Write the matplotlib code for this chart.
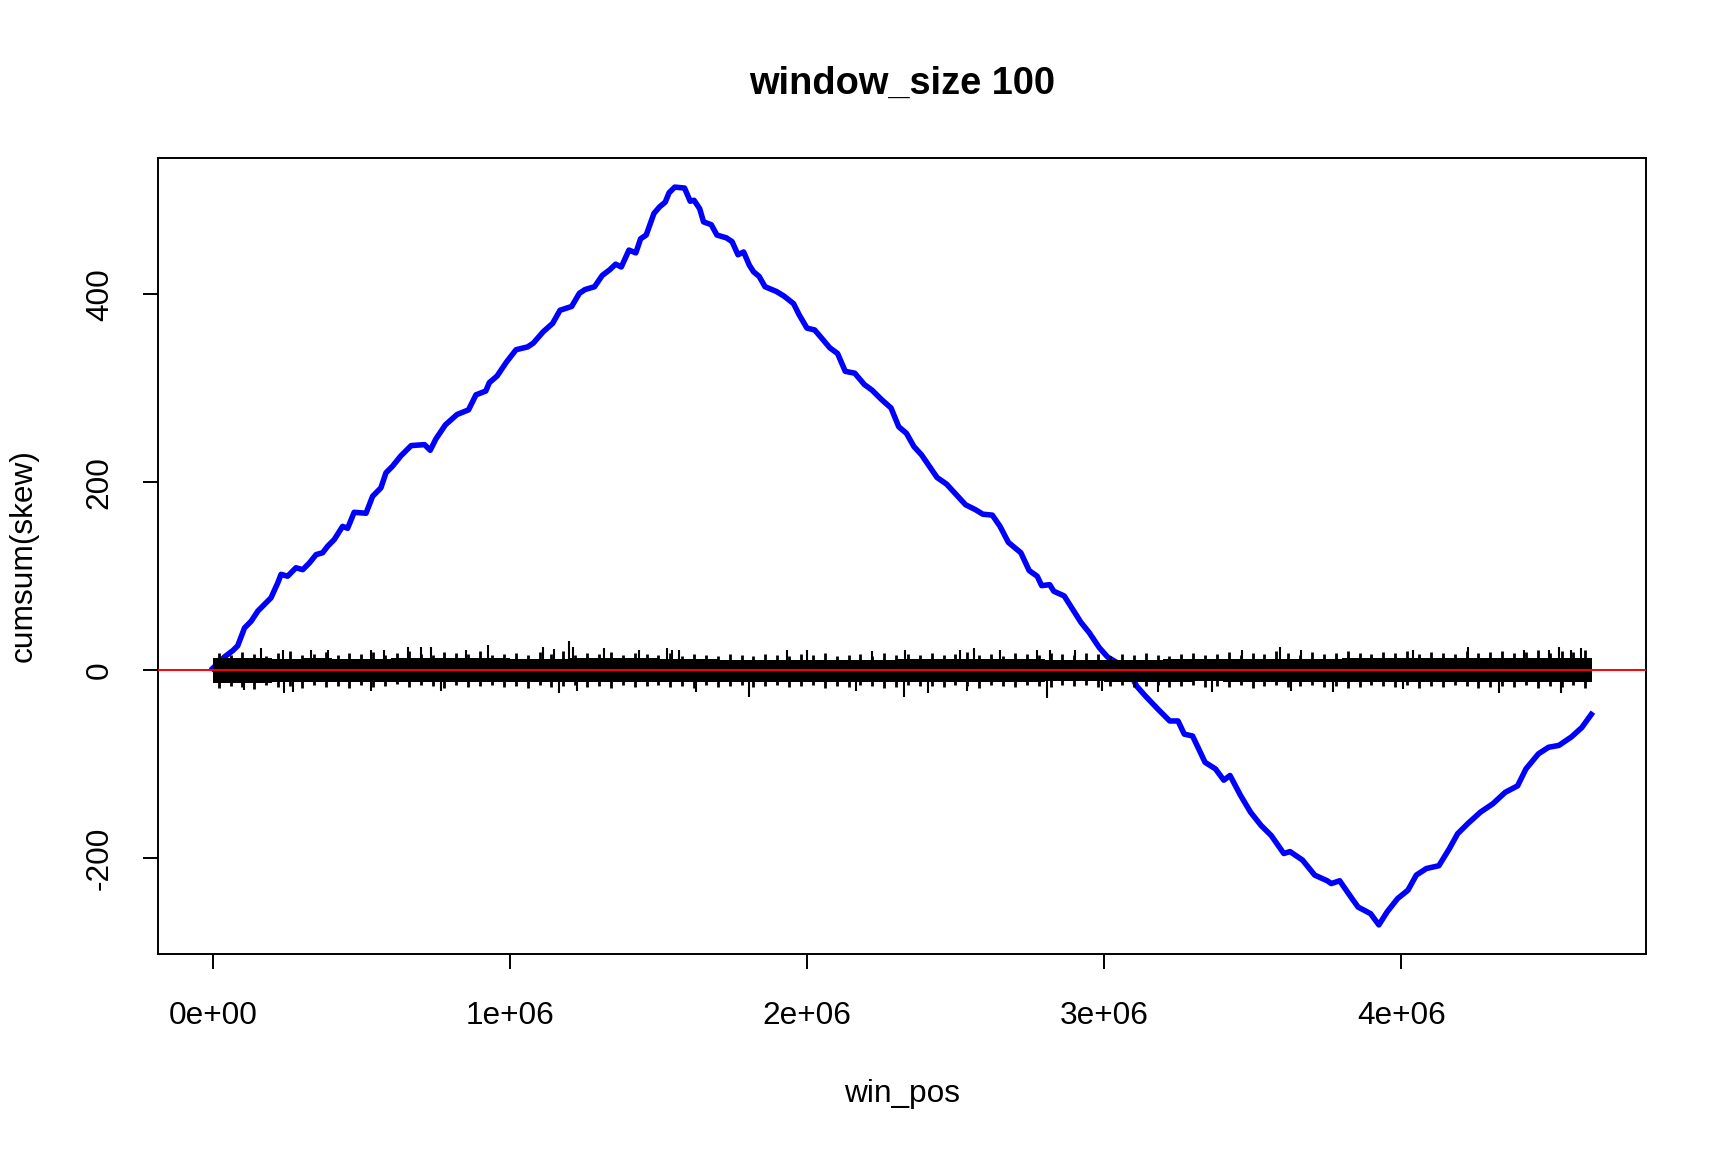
import numpy as np
import matplotlib
matplotlib.use("Agg")
import matplotlib.pyplot as plt

plt.rcParams['font.family'] = ['Liberation Sans', 'DejaVu Sans']

title = "window_size 100"
x_label = "win_pos"
y_label = "cumsum(skew)"

x_ticks = [0, 1e6, 2e6, 3e6, 4e6]
x_tick_labels = ["0e+00", "1e+06", "2e+06", "3e+06", "4e+06"]
y_ticks = [-200, 0, 200, 400]
y_tick_labels = ["-200", "0", "200", "400"]

# cumsum(skew) (x in Mb)
cum_x = [0.000, 0.020, 0.039, 0.068, 0.084, 0.107, 0.129, 0.152, 0.180, 0.196,
         0.219, 0.230, 0.252, 0.280, 0.303, 0.325, 0.348, 0.370, 0.387, 0.409,
         0.437, 0.454, 0.476, 0.516, 0.538, 0.566, 0.583, 0.605, 0.633, 0.668,
         0.713, 0.732, 0.751, 0.783, 0.822, 0.861, 0.886, 0.919, 0.931, 0.957,
         0.989, 1.021, 1.060, 1.079, 1.112, 1.144, 1.169, 1.208, 1.234, 1.253,
         1.285, 1.311, 1.336, 1.356, 1.375, 1.401, 1.424, 1.440, 1.459, 1.485,
         1.504, 1.523, 1.536, 1.555, 1.588, 1.607, 1.620, 1.639, 1.652, 1.678,
         1.697, 1.729, 1.748, 1.768, 1.787, 1.806, 1.820, 1.839, 1.859, 1.897,
         1.923, 1.955, 1.974, 2.000, 2.026, 2.045, 2.077, 2.103, 2.129, 2.161,
         2.193, 2.219, 2.251, 2.283, 2.309, 2.335, 2.360, 2.386, 2.412, 2.438,
         2.470, 2.502, 2.534, 2.566, 2.592, 2.624, 2.650, 2.678, 2.720, 2.748,
         2.775, 2.790, 2.817, 2.831, 2.866, 2.894, 2.922, 2.950, 2.984, 3.012,
         3.060, 3.090, 3.110, 3.138, 3.180, 3.221, 3.249, 3.270, 3.298, 3.340,
         3.375, 3.403, 3.424, 3.459, 3.493, 3.528, 3.563, 3.605, 3.626, 3.668,
         3.709, 3.751, 3.765, 3.793, 3.828, 3.855, 3.897, 3.925, 3.953, 3.988,
         4.023, 4.051, 4.085, 4.127, 4.162, 4.190, 4.225, 4.267, 4.309, 4.350,
         4.392, 4.420, 4.462, 4.496, 4.531, 4.573, 4.608, 4.640]
cum_y = [2, 8, 14, 21, 26, 45, 52, 63, 72, 77,
         93, 102, 100, 109, 107, 114, 123, 125, 132, 139,
         153, 151, 168, 167, 185, 194, 210, 217, 228, 239,
         240, 234, 246, 261, 272, 277, 293, 297, 306, 313,
         328, 341, 344, 348, 360, 369, 383, 387, 401, 405,
         408, 420, 426, 432, 429, 447, 444, 459, 463, 486,
         493, 498, 508, 514, 513, 499, 500, 491, 477, 474,
         463, 460, 456, 442, 445, 431, 424, 419, 408, 403,
         398, 390, 378, 364, 362, 355, 343, 337, 318, 316,
         304, 298, 288, 279, 259, 252, 238, 229, 217, 205,
         198, 187, 176, 171, 166, 165, 153, 136, 125, 106,
         100, 90, 91, 84, 79, 65, 51, 40, 24, 14,
         5, -5, -17, -27, -41, -54, -54, -68, -70, -98,
         -105, -117, -112, -133, -151, -165, -176, -195, -193, -202,
         -218, -224, -227, -224, -240, -252, -259, -271, -257, -243,
         -234, -218, -211, -208, -190, -174, -163, -151, -142, -130,
         -123, -105, -89, -82, -80, -71, -61, -47]

# skew per window: solid core of the black trace per 100 kb bin
band_x = [0.0, 0.1, 0.2, 0.3, 0.4, 0.5, 0.6, 0.7, 0.8, 0.9, 1.0, 1.1,
          1.2, 1.3, 1.4, 1.5, 1.6, 1.7, 1.8, 1.9, 2.0, 2.1, 2.2, 2.3,
          2.4, 2.5, 2.6, 2.7, 2.8, 2.9, 3.0, 3.1, 3.2, 3.3, 3.4, 3.5,
          3.6, 3.7, 3.8, 3.9, 4.0, 4.1, 4.2, 4.3, 4.4, 4.5, 4.6, 4.642]
band_hi = [13, 13, 12, 13, 12, 12, 13, 13, 13, 13, 12, 12,
           13, 13, 13, 12, 12, 11, 11, 11, 11, 11, 11, 12,
           12, 12, 12, 12, 11, 11, 11, 11, 12, 12, 12, 12,
           12, 12, 13, 13, 13, 13, 13, 13, 13, 13, 13, 13]
band_lo = [-14, -14, -13, -13, -13, -13, -13, -13, -13, -13, -13, -13,
           -13, -13, -13, -13, -13, -13, -13, -13, -13, -13, -13, -13,
           -13, -13, -13, -13, -12, -12, -13, -13, -13, -12, -13, -13,
           -13, -13, -13, -13, -13, -13, -13, -13, -13, -13, -13, -13]

# ragged fringe of the black trace, one tip every 40 kb (0.02 .. 4.62 Mb)
fringe_hi = [18, 16, 19, 17, 15, 18, 20, 16, 17, 19, 16, 18,
             17, 19, 16, 18, 20, 17, 16, 19, 18, 17, 20, 16,
             17, 18, 16, 19, 17, 20, 16, 18, 17, 19, 16, 18,
             17, 16, 18, 15, 17, 16, 15, 17, 16, 15, 17, 16,
             15, 17, 16, 18, 15, 16, 17, 15, 18, 16, 17, 16,
             18, 16, 17, 19, 16, 17, 15, 18, 17, 16, 18, 17,
             16, 18, 17, 15, 17, 16, 18, 16, 15, 17, 18, 16,
             17, 19, 16, 18, 17, 20, 18, 16, 19, 17, 18, 20,
             18, 17, 19, 18, 20, 17, 19, 18, 17, 20, 18, 19,
             20, 18, 19, 21, 18, 20, 19, 21]
fringe_lo = [-19, -17, -18, -20, -16, -18, -17, -19, -16, -18, -17, -19,
             -16, -18, -17, -15, -18, -16, -17, -19, -16, -18, -17, -16,
             -18, -17, -19, -16, -18, -17, -16, -18, -17, -19, -16, -18,
             -17, -16, -18, -17, -19, -16, -18, -17, -16, -18, -17, -16,
             -18, -17, -16, -19, -17, -18, -16, -17, -19, -18, -16, -17,
             -17, -18, -16, -17, -19, -16, -17, -18, -16, -17, -18, -16,
             -17, -16, -18, -17, -16, -18, -17, -16, -18, -17, -16, -18,
             -17, -18, -16, -19, -17, -16, -18, -17, -16, -18, -17, -19,
             -18, -16, -17, -18, -16, -19, -17, -18, -16, -17, -19, -18,
             -17, -18, -16, -19, -17, -18, -16, -19]

# single windows that stick out of the band (x in Mb, skew)
spike_x = [0.163, 0.236, 0.331, 0.387, 0.532, 0.577, 0.656, 0.700, 0.734, 0.852,
           0.925, 1.110, 1.149, 1.199, 1.214, 1.317, 1.434, 1.530, 1.547, 1.570,
           1.933, 2.000, 2.219, 2.331, 2.516, 2.563, 2.650, 2.773, 2.818, 2.902,
           3.463, 3.591, 3.664, 4.039, 4.224, 4.415, 4.499, 4.532, 4.572, 4.605,
           0.106, 0.241, 0.269, 0.532, 0.768, 1.165, 1.225, 1.625, 1.804, 2.164,
           2.325, 2.409, 2.538, 2.807, 2.992, 3.182, 3.362, 3.630, 3.770, 4.006,
           4.331, 4.538]
spike_y = [24, 21, 22, 22, 21, 22, 25, 25, 25, 22,
           27, 25, 23, 31, 25, 24, 22, 24, 21, 21,
           21, 21, 20, 21, 21, 24, 21, 21, 21, 21,
           21, 25, 21, 21, 25, 21, 21, 25, 21, 24,
           -21, -24, -23, -22, -22, -24, -22, -23, -28, -22,
           -28, -24, -22, -30, -22, -23, -23, -22, -23, -20,
           -24, -24]

mb = 1e6
cum_x = np.array(cum_x) * mb
band_x = np.array(band_x) * mb
spike_x = np.array(spike_x) * mb
fringe_x = np.linspace(0.02, 4.62, len(fringe_hi)) * mb

fig = plt.figure(figsize=(17.28, 11.52), dpi=100)
ax = fig.add_axes([0.0912, 0.1715, 0.8616, 0.6917])

ax.plot(cum_x, cum_y, color='blue', lw=4, solid_joinstyle='round', zorder=2)
ax.fill_between(band_x, band_lo, band_hi, step='post', color='black', lw=0, zorder=3)
ax.vlines(fringe_x, fringe_lo, fringe_hi, color='black', lw=2.0, zorder=3)
ax.vlines(spike_x, 0, spike_y, color='black', lw=1.5, zorder=3)
ax.axhline(0, color='red', lw=1.4, zorder=4)

xr = cum_x.max() - cum_x.min()
yr = max(cum_y) - min(cum_y)
ax.set_xlim(cum_x.min() - 0.04 * xr, cum_x.max() + 0.04 * xr)
ax.set_ylim(min(cum_y) - 0.04 * yr, max(cum_y) + 0.04 * yr)

ax.set_xticks(x_ticks)
ax.set_xticklabels(x_tick_labels)
ax.set_yticks(y_ticks)
ax.set_yticklabels(y_tick_labels, rotation=90, va='center')
ax.tick_params(direction='out', length=10.8, width=1.4, labelsize=22.8, pad=20)
ax.tick_params(axis='x', pad=23)
for s in ax.spines.values():
    s.set_linewidth(1.4)

fig.text(0.5221, 1 - 84 / 1152, title, ha='center', va='center',
         fontsize=27.4, fontweight='bold')
fig.text(0.5221, 1 - 1094 / 1152, x_label, ha='center', va='center', fontsize=22.8)
fig.text(24 / 1728, 0.5175, y_label, ha='center', va='center', rotation=90, fontsize=22.8)

fig.savefig("out.png", dpi=100)
